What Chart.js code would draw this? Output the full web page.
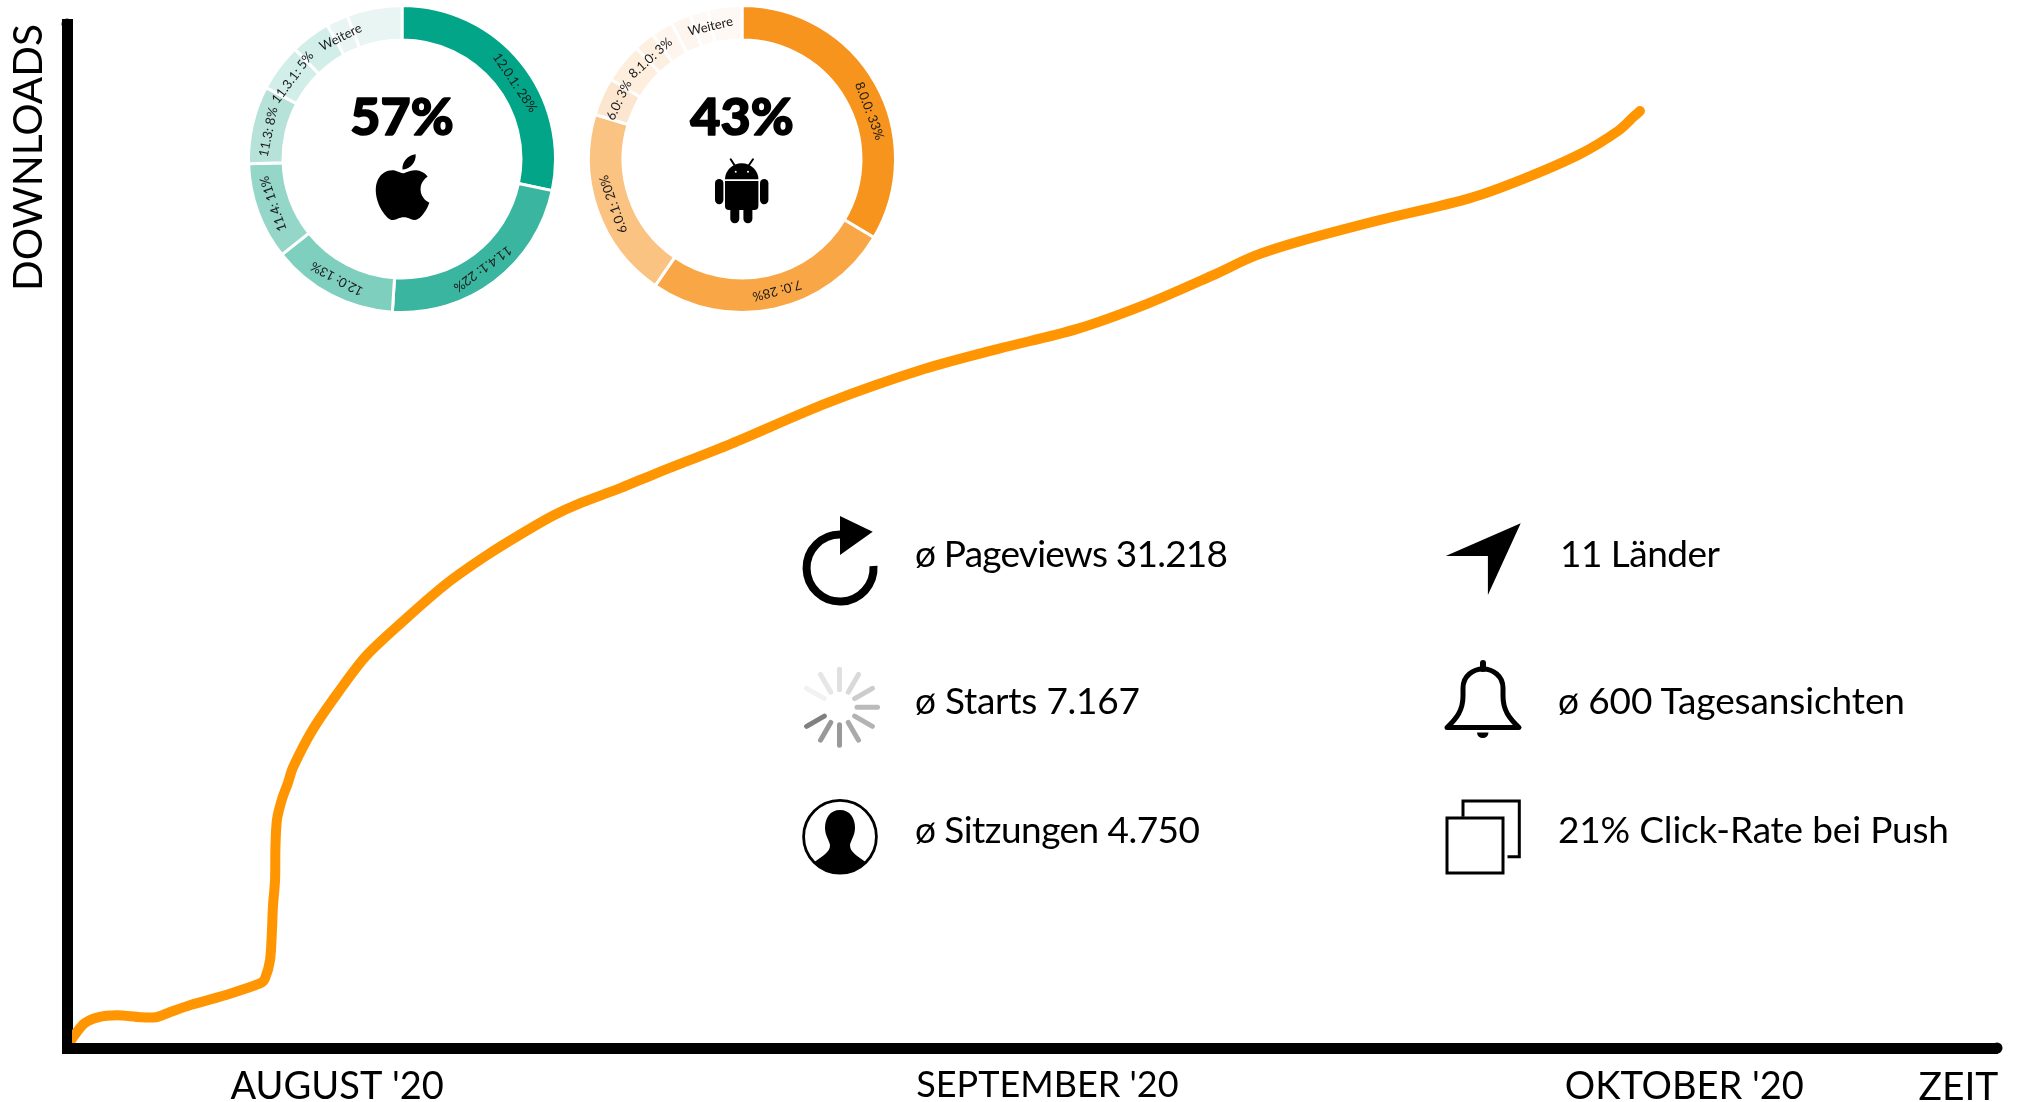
<!DOCTYPE html>
<html lang="de">
<head>
<meta charset="utf-8">
<title>Downloads</title>
<script src="https://cdn.jsdelivr.net/npm/chart.js@4/dist/chart.umd.min.js"></script>
<style>
  html, body { margin: 0; padding: 0; background: #fff; }
  #stage { position: relative; width: 2017px; height: 1102px; overflow: hidden; }
  canvas { position: absolute; }
  #graph { left: 0; top: 0; }
  #apple { left: 247px; top: 4px; }
  #android { left: 587px; top: 4px; }
  #overlay { position: absolute; left: 0; top: 0; pointer-events: none; }
  #overlay text { font-family: Lato, sans-serif; font-size: 37px; fill: #000; }
</style>
</head>
<body>
<div id="stage">
  <canvas id="graph" width="2017" height="1102"></canvas>
  <canvas id="apple" width="310" height="310"></canvas>
  <canvas id="android" width="310" height="310"></canvas>
  <svg id="overlay" width="2017" height="1102" viewBox="0 0 2017 1102">
    <!-- Apple -->
    <path transform="translate(369.7 154.3) scale(2.74)" d="M12.152 6.896c-.948 0-2.415-1.078-3.96-1.04-2.04.027-3.91 1.183-4.961 3.014-2.117 3.675-.546 9.103 1.519 12.09 1.013 1.454 2.208 3.09 3.792 3.039 1.52-.065 2.09-.987 3.935-.987 1.831 0 2.35.987 3.96.948 1.637-.026 2.676-1.48 3.676-2.948 1.156-1.688 1.636-3.325 1.662-3.415-.039-.013-3.182-1.221-3.22-4.857-.026-3.04 2.48-4.494 2.597-4.559-1.429-2.09-3.623-2.324-4.39-2.376-2-.156-3.675 1.09-4.61 1.09zM15.53 3.83c.843-1.012 1.4-2.427 1.245-3.83-1.207.052-2.662.805-3.532 1.818-.78.896-1.454 2.338-1.273 3.714 1.338.104 2.715-.688 3.559-1.701"/>
    <!-- Android -->
    <g>
      <path d="M725 179.3a16.7 16 0 0 1 33.4 0z"/>
      <path d="M725 181h33.4v25a4 4 0 0 1-4 4H729a4 4 0 0 1-4-4z"/>
      <rect x="715" y="179" width="8.4" height="25.3" rx="4.2"/>
      <rect x="760" y="179" width="8.4" height="25.3" rx="4.2"/>
      <rect x="730.3" y="205" width="9" height="18.3" rx="4.5"/>
      <rect x="743.4" y="205" width="9" height="18.3" rx="4.5"/>
      <path d="M730.7 159.3L735 166M753 159.3L748.4 166" stroke="#000" stroke-width="2" stroke-linecap="round"/>
      <circle cx="735.7" cy="171.7" r="1" fill="#fff"/>
      <circle cx="748" cy="171.7" r="1" fill="#fff"/>
    </g>
    <!-- Pageviews -->
    <path d="M840 534.5A33.5 33.5 0 1 0 873.5 566" fill="none" stroke="#000" stroke-width="8"/>
    <path d="M840 516L872.7 531.7L840 555z"/>
    <!-- Starts -->
    <g id="spinner"></g>
    <!-- Sitzungen -->
    <circle cx="840" cy="836.7" r="36.4" fill="none" stroke="#000" stroke-width="2.8"/>
    <path d="M840 810C850 810 855 818 855 828C855 835 851 840 850 845C850 852 856 855 866 862.2A36.4 36.4 0 0 1 814 862.2C824 855 830 852 830 845C829 840 825 835 825 828C825 818 830 810 840 810z"/>
    <!-- Laender -->
    <path d="M1520.7 523.3L1445.7 556L1487.9 556L1487.9 595z"/>
    <!-- Tagesansichten -->
    <path d="M1447 727.5C1457 718 1463 710 1463 696L1463 688C1463 676 1473 669 1483 669C1493 669 1503 676 1503 688L1503 696C1503 710 1509 718 1519 727.5z" fill="none" stroke="#000" stroke-width="5" stroke-linejoin="round"/>
    <path d="M1483 663L1483 669" stroke="#000" stroke-width="6" stroke-linecap="round"/>
    <path d="M1477 732.5h11.5a5.75 5.5 0 0 1-11.5 0z"/>
    <!-- Click-Rate -->
    <rect x="1447" y="818" width="56" height="55" fill="none" stroke="#000" stroke-width="3"/>
    <path d="M1463 816.7V801H1519.3V856.7H1507.5" fill="none" stroke="#000" stroke-width="3"/>
    <g id="stats"></g>
  </svg>
</div>
<script>
// Kurve
const curveX = [0, 0.3, 0.9, 1.6, 2.6, 3.8, 4.6, 5.2, 6.4, 8.1, 10.0, 10.26, 10.52, 10.62, 10.67, 10.78, 10.8, 10.88, 11.14, 11.45, 11.71, 12.7, 14.0, 15.5, 17.6, 19.7, 21.9, 23.8, 25.2, 26.6, 28.7, 30.5, 34.4, 39.4, 44.4, 48.3, 52.3, 56.0, 59.3, 61.6, 63.9, 67.9, 72.7, 75.5, 78.4, 80.4, 81.2, 81.5];
const curveY = [0.1, 1.0, 2.4, 3.0, 3.2, 3.0, 3.0, 3.4, 4.2, 5.1, 6.3, 6.8, 8.6, 11.5, 13.8, 16.4, 19.6, 22.3, 24.3, 25.9, 27.4, 31.0, 34.6, 38.3, 42.0, 45.4, 48.3, 50.5, 52.0, 53.2, 54.7, 56.1, 59.0, 63.0, 66.3, 68.3, 70.2, 72.7, 75.4, 77.4, 78.8, 80.8, 83.0, 84.9, 87.3, 89.6, 91.0, 91.5];

// Achse
const tickValues = [14, 50.8, 83.8, 98];
const tickLabels = ["AUGUST '20", "SEPTEMBER '20", "OKTOBER '20", "ZEIT"];

// iOS
const appleShares = [28.3, 22.7, 13.3, 10.2, 8.2, 5, 4.2, 2.3, 5.8];
const appleLabels = ["12.0.1: 28%", "11.4.1: 22%", "12.0: 13%", "11.4: 11%", "11.3: 8%", "11.3.1: 5%", "Weitere", "", ""];
const appleColors = ["#03a588", "#3ab5a0", "#7fcfbf", "#94d6c8", "#b6e2d9", "#d2eee8", "#d2eee8", "#e8f5f2", "#e8f5f2"];

// Android
const androidShares = [33.5, 26, 20.1, 4, 4.2, 2.2, 2.3, 2.1, 1.9, 3.6];
const androidLabels = ["8.0.0: 33%", "7.0: 28%", "6.0.1: 20%", "6.0: 3%", "8.1.0: 3%", "", "", "", "Weitere", ""];
const androidColors = ["#f7941d", "#f9a746", "#fac382", "#fce6d0", "#fdeede", "#fdf0e1", "#fef6ee", "#fef6ee", "#fef9f4", "#fef9f4"];

// Kennzahlen
const statLabels = ["ø Pageviews 31.218", "ø Starts 7.167", "ø Sitzungen 4.750", "11 Länder", "ø 600 Tagesansichten", "21% Click-Rate bei Push"];

const FONT = "Lato, sans-serif";

// runde Enden der Achsen
const axisCaps = {
  id: "axisCaps",
  afterDraw(chart) {
    const { ctx, chartArea: a } = chart;
    ctx.save();
    ctx.fillStyle = "#000";
    ctx.beginPath();
    ctx.arc(a.left, a.top, 5.5, 0, Math.PI * 2);
    ctx.arc(a.right, a.bottom, 5.5, 0, Math.PI * 2);
    ctx.fill();
    ctx.restore();
  },
};

const tickSizes = [38, 36, 38, 39];

new Chart(document.getElementById("graph"), {
  type: "line",
  data: {
    datasets: [
      {
        data: curveX.map((x, i) => ({ x: x, y: curveY[i] })),
        borderColor: "#ff9500",
        borderWidth: 10,
        borderCapStyle: "round",
        borderJoinStyle: "round",
        tension: 0.3,
        pointRadius: 0,
        clip: { left: -5, top: 0, right: 0, bottom: -5 },
      },
    ],
  },
  options: {
    responsive: false,
    animation: false,
    devicePixelRatio: 1,
    layout: { padding: { top: 24, right: 20 } },
    plugins: { legend: { display: false }, tooltip: { enabled: false } },
    scales: {
      x: {
        type: "linear",
        min: 0,
        max: 100,
        grid: { display: false },
        border: { color: "#000", width: 11 },
        afterBuildTicks: (axis) => {
          axis.ticks = tickValues.map((v) => ({ value: v }));
        },
        afterFit: (axis) => {
          axis.height = 54;
        },
        ticks: {
          autoSkip: false,
          maxRotation: 0,
          padding: 8,
          color: "#000",
          font: (c) => ({ family: FONT, size: tickSizes[c.index] }),
          callback: (v) => tickLabels[tickValues.indexOf(v)],
        },
      },
      y: {
        min: 0,
        max: 100,
        grid: { display: false },
        border: { color: "#000", width: 11 },
        afterFit: (axis) => {
          axis.width = 67;
        },
        ticks: { display: false },
        title: {
          display: true,
          text: "DOWNLOADS",
          align: "end",
          color: "#000",
          padding: { top: 5, bottom: 0 },
          font: { family: FONT, size: 40.5 },
        },
      },
    },
  },
  plugins: [axisCaps],
});

// Beschriftung im Ring und Prozentwert in der Mitte
const ringText = {
  id: "ringText",
  afterDraw(chart, _, opts) {
    const { ctx } = chart;
    const arcs = chart.getDatasetMeta(0).data;
    const labels = chart.data.labels;
    ctx.save();
    ctx.fillStyle = "#1a1a1a";
    ctx.textAlign = "center";
    ctx.textBaseline = "middle";
    ctx.font = "13px " + FONT;
    arcs.forEach((arc, i) => {
      if (!labels[i]) return;
      const mid = (arc.startAngle + arc.endAngle) / 2 + ((opts.nudge[i] || 0) * Math.PI) / 180;
      ctx.save();
      ctx.translate(arc.x, arc.y);
      ctx.rotate(mid + Math.PI / 2);
      ctx.fillText(labels[i], 0, -(arc.innerRadius + arc.outerRadius) / 2);
      ctx.restore();
    });
    ctx.fillStyle = "#000";
    ctx.strokeStyle = "#000";
    ctx.lineWidth = 1.6;
    ctx.lineJoin = "round";
    ctx.font = "900 52px " + FONT;
    ctx.fillText(opts.center, arcs[0].x, arcs[0].y - 41);
    ctx.strokeText(opts.center, arcs[0].x, arcs[0].y - 41);
    ctx.restore();
  },
};

function donut(id, labels, shares, colors, center, nudge) {
  new Chart(document.getElementById(id), {
    type: "doughnut",
    data: {
      labels: labels,
      datasets: [{ data: shares, backgroundColor: colors, borderColor: "#fff", borderWidth: 3 }],
    },
    options: {
      responsive: false,
      animation: false,
      devicePixelRatio: 1,
      cutout: "77.5%",
      plugins: {
        legend: { display: false },
        tooltip: { enabled: false },
        ringText: { center: center, nudge: nudge },
      },
    },
    plugins: [ringText],
  });
}

donut("apple", appleLabels, appleShares, appleColors, "57%", [5, 1, 1, 1, -1.5, 0, 10]);
donut("android", androidLabels, androidShares, androidColors, "43%", [9, -2.5, 0, 1.5, 9, 0, 0, 0, 3]);

// Lade-Symbol
const spinnerGreys = ["#e0e0e0", "#d9d9d9", "#ccc", "#bbb", "#b3b3b3", "#aaa", "#999", "#999", "#808080", "#fff", "#f2f2f2", "#e6e6e6"];
const NS = "http://www.w3.org/2000/svg";
spinnerGreys.forEach((c, i) => {
  const l = document.createElementNS(NS, "line");
  l.setAttribute("x1", 839.5);
  l.setAttribute("x2", 839.5);
  l.setAttribute("y1", 707.3 - 38);
  l.setAttribute("y2", 707.3 - 17.5);
  l.setAttribute("stroke", c);
  l.setAttribute("stroke-width", 5);
  l.setAttribute("stroke-linecap", "round");
  l.setAttribute("transform", `rotate(${i * 30} 839.5 707.3)`);
  document.getElementById("spinner").appendChild(l);
});

// Kennzahlen-Texte
const statSpots = [[915, 567, 313], [915, 714, 225], [915, 843, 285], [1560, 567, 160], [1558, 714, 347], [1558, 843, 391]];
statLabels.forEach((s, i) => {
  const t = document.createElementNS(NS, "text");
  t.setAttribute("x", statSpots[i][0]);
  t.setAttribute("y", statSpots[i][1]);
  t.setAttribute("textLength", statSpots[i][2]);
  t.textContent = s;
  document.getElementById("stats").appendChild(t);
});
</script>
</body>
</html>
